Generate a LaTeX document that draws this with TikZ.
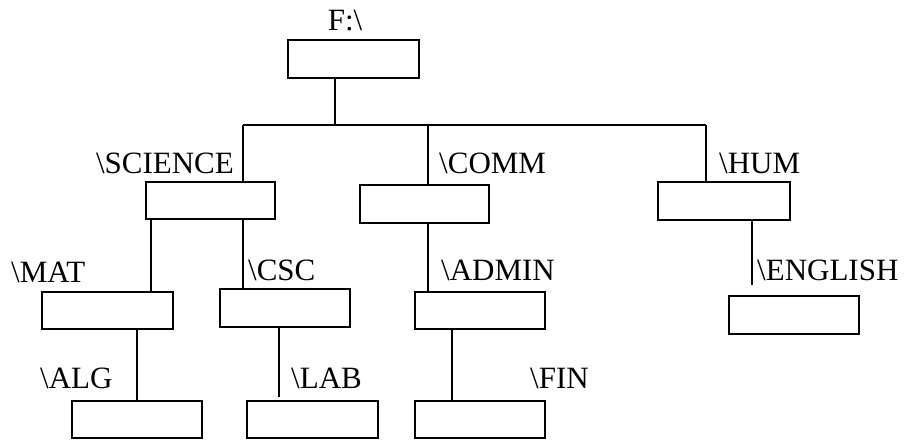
\documentclass[tikz,border=0pt]{standalone}
\usepackage{fontspec}
\setmainfont{Liberation Serif}
\begin{document}
\begin{tikzpicture}[x=1pt,y=-1pt,
  dirbox/.style={draw, line width=1.4pt, minimum width=130pt, minimum height=37pt, inner sep=0pt, fill=white},
  lbl/.style={inner sep=0pt, font=\fontsize{31}{37}\selectfont},
  conn/.style={line width=1.1pt}]
\useasboundingbox (0,0) rectangle (904,439);
% boxes
\node[dirbox, minimum width=131pt, minimum height=38pt] (root) at (353.5,59) {};
\node[dirbox, minimum width=129pt] (sci) at (210.5,200.5) {};
\node[dirbox, minimum width=129pt, minimum height=38pt] (comm) at (424.5,204) {};
\node[dirbox, minimum width=132pt, minimum height=38pt] (hum) at (724,201) {};
\node[dirbox, minimum width=131pt] (mat) at (107.5,310.5) {};
\node[dirbox, minimum height=38pt] (csc) at (285,308) {};
\node[dirbox] (admin) at (480,310.5) {};
\node[dirbox, minimum height=38pt] (eng) at (794,315) {};
\node[dirbox] (alg) at (137,419.5) {};
\node[dirbox, minimum width=131pt] (lab) at (312.5,419.5) {};
\node[dirbox] (fin) at (480,419.5) {};
% labels
\node[lbl, anchor=base] (lroot) at (345,30) {F:\textbackslash};
\node[lbl, anchor=base east] (lsci) at (234,173) {\textbackslash SCIENCE};
\node[lbl, anchor=base west] (lcomm) at (439,173) {\textbackslash COMM};
\node[lbl, anchor=base west] (lhum) at (719,173) {\textbackslash HUM};
\node[lbl, anchor=base west] (lmat) at (11,282) {\textbackslash MAT};
\node[lbl, anchor=base west] (lcsc) at (248,280) {\textbackslash CSC};
\node[lbl, anchor=base west] (ladmin) at (441,280) {\textbackslash ADMIN};
\node[lbl, anchor=base west] (leng) at (757,280) {\textbackslash ENGLISH};
\node[lbl, anchor=base west] (lalg) at (40,388) {\textbackslash ALG};
\node[lbl, anchor=base west] (llab) at (291,388) {\textbackslash LAB};
\node[lbl, anchor=base west] (lfin) at (530,388) {\textbackslash FIN};
% junction coordinates
\coordinate (jr) at (335,125);
\coordinate (jl) at (243,125);
\coordinate (jc) at (428,125);
\coordinate (jh) at (706,125);
\coordinate (xm) at (151,0);
\coordinate (ee) at (752,285);
\coordinate (le) at (279,397);
\coordinate (xf) at (452,0);
% connectors
\draw[conn] (jr |- root.south) -- (jr);
\draw[conn] (jl) -- (jh);
\draw[conn] (jl) -- (jl |- sci.north);
\draw[conn] (jc) -- (jc |- comm.north);
\draw[conn] (jh) -- (jh |- hum.north);
\draw[conn] (xm |- sci.south) -- (xm |- mat.north);
\draw[conn] (jl |- sci.south) -- (jl |- csc.north);
\draw[conn] (jc |- comm.south) -- (jc |- admin.north);
\draw[conn] (ee |- hum.south) -- (ee);
\draw[conn] (alg.north |- mat.south) -- (alg.north);
\draw[conn] (le |- csc.south) -- (le);
\draw[conn] (xf |- admin.south) -- (xf |- fin.north);
\end{tikzpicture}
\end{document}
